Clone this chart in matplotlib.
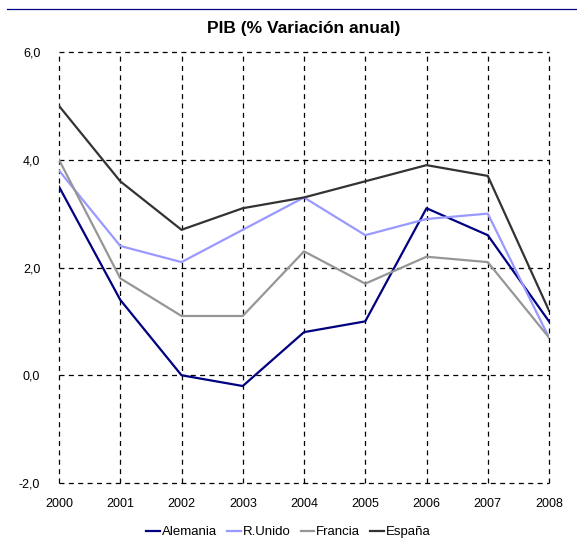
import matplotlib
matplotlib.use("Agg")
import matplotlib.pyplot as plt
from matplotlib.lines import Line2D

plt.rcParams['font.family'] = ['Liberation Sans', 'DejaVu Sans']

years = [2000, 2001, 2002, 2003, 2004, 2005, 2006, 2007, 2008]
alemania = [3.5, 1.4, 0.0, -0.2, 0.8, 1.0, 3.1, 2.6, 1.0]
runido = [3.8, 2.4, 2.1, 2.7, 3.3, 2.6, 2.9, 3.0, 0.7]
francia = [4.0, 1.8, 1.1, 1.1, 2.3, 1.7, 2.2, 2.1, 0.7]
espana = [5.0, 3.6, 2.7, 3.1, 3.3, 3.6, 3.9, 3.7, 1.2]
yticks = [-2.0, 0.0, 2.0, 4.0, 6.0]
ytick_labels = ['-2,0', '0,0', '2,0', '4,0', '6,0']
series = [("Alemania", alemania, "#000080"),
          ("R.Unido", runido, "#9999FF"),
          ("Francia", francia, "#969696"),
          ("España", espana, "#333333")]

fig = plt.figure(figsize=(5.77, 5.47), dpi=100)
ax = fig.add_axes([59/577, 1 - 483/547, 490/577, 431/547])

# top decorative line
fig.add_artist(Line2D([7/577, 1.0], [1 - 9/547, 1 - 9/547], color="#000080", lw=0.9,
                      transform=fig.transFigure))

for name, vals, col in series:
    ax.plot(years, vals, color=col, lw=1.6, label=name, zorder=3)

ax.set_xlim(2000, 2008)
ax.set_ylim(-2, 6)
ax.set_xticks(years)
ax.set_xticklabels([str(y) for y in years], fontsize=9)
ax.set_yticks(yticks)
ax.set_yticklabels(ytick_labels, fontsize=9)
ax.tick_params(axis='x', length=0, pad=11)
ax.tick_params(axis='y', length=0, pad=13.5)
for s in ax.spines.values():
    s.set_visible(False)
ax.grid(True, color='black', linestyle=(0, (4, 3.5)), lw=0.9, zorder=1)
ax.set_axisbelow(True)
for gl in ax.xaxis.get_gridlines() + ax.yaxis.get_gridlines():
    gl.set_clip_on(False)

ax.set_title("PIB (% Variación anual)", fontsize=12.5, fontweight='bold', pad=14)

leg = fig.legend(loc='center', bbox_to_anchor=(0.5, 1 - 532/547), ncol=4, frameon=False,
                 fontsize=9.5, handlelength=1.05, handletextpad=0.15, columnspacing=0.75,
                 borderpad=0, borderaxespad=0)

fig.savefig("out.png", dpi=100)
